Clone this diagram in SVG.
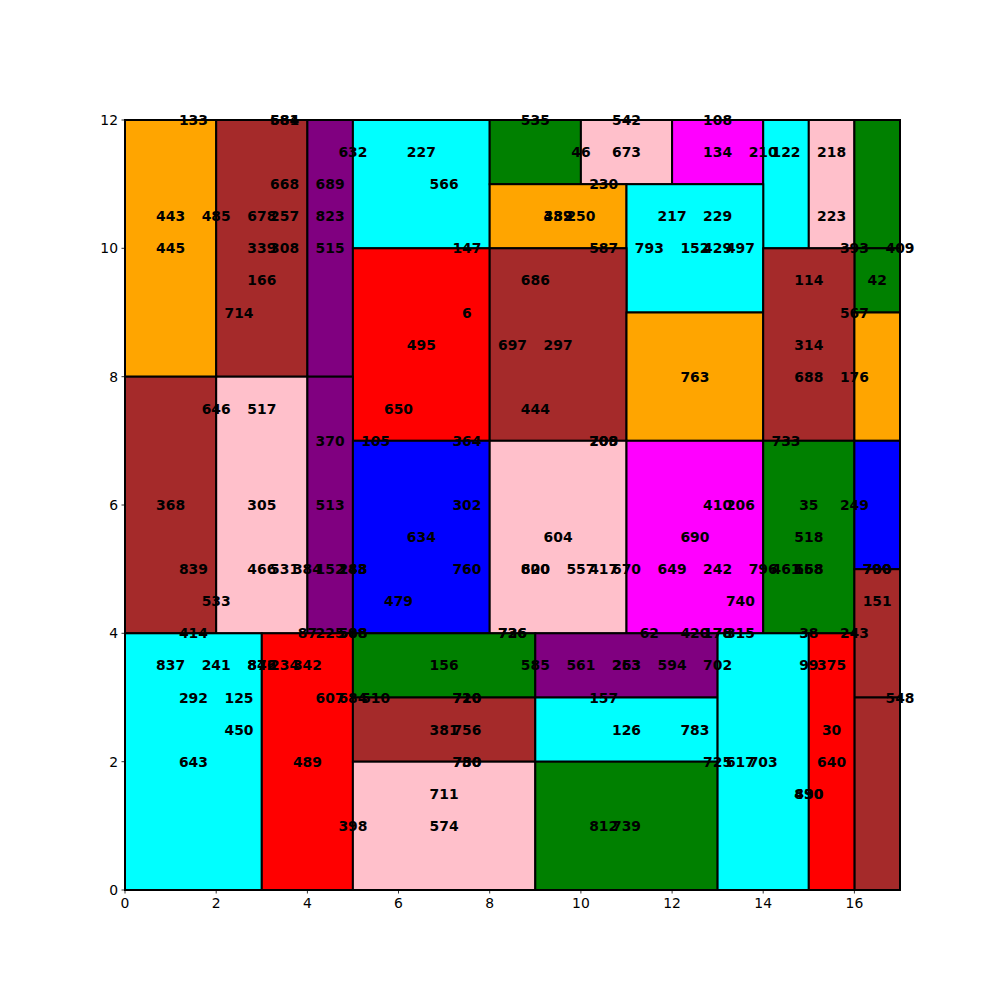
<svg xmlns="http://www.w3.org/2000/svg" width="1000" height="1000" viewBox="0 0 1000 1000">
<style>
rect.r{stroke:#000;stroke-width:2}
.or{fill:#FFA500}.br{fill:#A52A2A}.pu{fill:#800080}.cy{fill:#00FFFF}.gr{fill:#008000}.pk{fill:#FFC0CB}.mg{fill:#FF00FF}.rd{fill:#FF0000}.bl{fill:#0000FF}
text.l{font-family:"DejaVu Sans","Liberation Sans",sans-serif;font-weight:bold;font-size:13.9px;text-anchor:middle;dominant-baseline:central;fill:#000}
text.t{font-family:"DejaVu Sans","Liberation Sans",sans-serif;font-size:13.9px;fill:#000}
line.tk{stroke:#000;stroke-width:0.8}
</style>
<rect width="1000" height="1000" fill="#fff"/>
<g id="axes-frame"><rect x="125" y="120" width="775" height="770" fill="none" stroke="#000" stroke-width="0.8"/></g>
<g id="cells">
<g id="c1"><rect class="r or" x="125" y="120" width="91.2" height="256.7"/></g>
<g id="c2"><rect class="r br" x="216.2" y="120" width="91.2" height="256.7"/></g>
<g id="c3"><rect class="r pu" x="307.4" y="120" width="45.5" height="256.7"/></g>
<g id="c4"><rect class="r cy" x="352.9" y="120" width="136.8" height="128.3"/></g>
<g id="c5"><rect class="r gr" x="489.7" y="120" width="91.2" height="64.2"/></g>
<g id="c6"><rect class="r pk" x="580.9" y="120" width="91.2" height="64.2"/></g>
<g id="c7"><rect class="r mg" x="672.1" y="120" width="91.1" height="64.2"/></g>
<g id="c8"><rect class="r cy" x="763.2" y="120" width="45.6" height="128.3"/></g>
<g id="c9"><rect class="r pk" x="808.8" y="120" width="45.6" height="128.3"/></g>
<g id="c10"><rect class="r gr" x="854.4" y="120" width="45.6" height="128.3"/></g>
<g id="c11"><rect class="r gr" x="854.4" y="248.3" width="45.6" height="64.2"/></g>
<g id="c12"><rect class="r or" x="489.7" y="184.2" width="136.8" height="64.1"/></g>
<g id="c13"><rect class="r cy" x="626.5" y="184.2" width="136.7" height="128.3"/></g>
<g id="c14"><rect class="r rd" x="352.9" y="248.3" width="136.8" height="192.5"/></g>
<g id="c15"><rect class="r br" x="489.7" y="248.3" width="136.8" height="192.5"/></g>
<g id="c16"><rect class="r or" x="626.5" y="312.5" width="136.7" height="128.3"/></g>
<g id="c17"><rect class="r br" x="763.2" y="248.3" width="91.2" height="192.5"/></g>
<g id="c18"><rect class="r or" x="854.4" y="312.5" width="45.6" height="128.3"/></g>
<g id="c19"><rect class="r br" x="125" y="376.7" width="91.2" height="256.6"/></g>
<g id="c20"><rect class="r pk" x="216.2" y="376.7" width="91.2" height="256.6"/></g>
<g id="c21"><rect class="r pu" x="307.4" y="376.7" width="45.5" height="256.6"/></g>
<g id="c22"><rect class="r bl" x="352.9" y="440.8" width="136.8" height="192.5"/></g>
<g id="c23"><rect class="r pk" x="489.7" y="440.8" width="136.8" height="192.5"/></g>
<g id="c24"><rect class="r mg" x="626.5" y="440.8" width="136.7" height="192.5"/></g>
<g id="c25"><rect class="r gr" x="763.2" y="440.8" width="91.2" height="192.5"/></g>
<g id="c26"><rect class="r bl" x="854.4" y="440.8" width="45.6" height="128.4"/></g>
<g id="c27"><rect class="r br" x="854.4" y="569.2" width="45.6" height="128.3"/></g>
<g id="c28"><rect class="r br" x="854.4" y="697.5" width="45.6" height="192.5"/></g>
<g id="c29"><rect class="r cy" x="125" y="633.3" width="136.8" height="256.7"/></g>
<g id="c30"><rect class="r rd" x="261.8" y="633.3" width="91.1" height="256.7"/></g>
<g id="c31"><rect class="r gr" x="352.9" y="633.3" width="182.4" height="64.2"/></g>
<g id="c32"><rect class="r br" x="352.9" y="697.5" width="182.4" height="64.2"/></g>
<g id="c33"><rect class="r pk" x="352.9" y="761.7" width="182.4" height="128.3"/></g>
<g id="c34"><rect class="r pu" x="535.3" y="633.3" width="182.3" height="64.2"/></g>
<g id="c35"><rect class="r cy" x="535.3" y="697.5" width="182.3" height="64.2"/></g>
<g id="c36"><rect class="r gr" x="535.3" y="761.7" width="182.3" height="128.3"/></g>
<g id="c37"><rect class="r cy" x="717.6" y="633.3" width="91.2" height="256.7"/></g>
<g id="c38"><rect class="r rd" x="808.8" y="633.3" width="45.6" height="256.7"/></g>
</g>
<g id="ticks">
<line class="tk" x1="125" y1="890" x2="125" y2="893.5"/><line class="tk" x1="216.2" y1="890" x2="216.2" y2="893.5"/><line class="tk" x1="307.4" y1="890" x2="307.4" y2="893.5"/><line class="tk" x1="398.5" y1="890" x2="398.5" y2="893.5"/><line class="tk" x1="489.7" y1="890" x2="489.7" y2="893.5"/><line class="tk" x1="580.9" y1="890" x2="580.9" y2="893.5"/><line class="tk" x1="672.1" y1="890" x2="672.1" y2="893.5"/><line class="tk" x1="763.2" y1="890" x2="763.2" y2="893.5"/><line class="tk" x1="854.4" y1="890" x2="854.4" y2="893.5"/>
<line class="tk" x1="121.5" y1="890" x2="125" y2="890"/><line class="tk" x1="121.5" y1="761.7" x2="125" y2="761.7"/><line class="tk" x1="121.5" y1="633.3" x2="125" y2="633.3"/><line class="tk" x1="121.5" y1="505" x2="125" y2="505"/><line class="tk" x1="121.5" y1="376.7" x2="125" y2="376.7"/><line class="tk" x1="121.5" y1="248.3" x2="125" y2="248.3"/><line class="tk" x1="121.5" y1="120" x2="125" y2="120"/>
<g text-anchor="middle">
<text class="t" x="125" y="908">0</text><text class="t" x="216.2" y="908">2</text><text class="t" x="307.4" y="908">4</text><text class="t" x="398.5" y="908">6</text><text class="t" x="489.7" y="908">8</text><text class="t" x="580.9" y="908">10</text><text class="t" x="672.1" y="908">12</text><text class="t" x="763.2" y="908">14</text><text class="t" x="854.4" y="908">16</text>
</g>
<g text-anchor="end">
<text class="t" x="118" y="895">0</text><text class="t" x="118" y="766.7">2</text><text class="t" x="118" y="638.3">4</text><text class="t" x="118" y="510">6</text><text class="t" x="118" y="381.7">8</text><text class="t" x="118" y="253.3">10</text><text class="t" x="118" y="125">12</text>
</g>
</g>
<g id="labels">
<text class="l" x="193.4" y="120">133</text><text class="l" x="284.6" y="120">684</text><text class="l" x="284.6" y="120">581</text><text class="l" x="535.3" y="120">535</text><text class="l" x="626.5" y="120">542</text><text class="l" x="717.6" y="120">108</text>
<text class="l" x="352.9" y="152.1">632</text><text class="l" x="421.3" y="152.1">227</text><text class="l" x="580.9" y="152.1">46</text><text class="l" x="626.5" y="152.1">673</text><text class="l" x="717.6" y="152.1">134</text><text class="l" x="763.2" y="152.1">210</text><text class="l" x="786" y="152.1">122</text><text class="l" x="831.6" y="152.1">218</text>
<text class="l" x="284.6" y="184.2">668</text><text class="l" x="330.1" y="184.2">689</text><text class="l" x="444.1" y="184.2">566</text><text class="l" x="603.7" y="184.2">230</text>
<text class="l" x="170.6" y="216.25">443</text><text class="l" x="216.2" y="216.25">485</text><text class="l" x="261.8" y="216.25">678</text><text class="l" x="284.6" y="216.25">257</text><text class="l" x="330.1" y="216.25">823</text><text class="l" x="558.1" y="216.25">432</text><text class="l" x="558.1" y="216.25">389</text><text class="l" x="580.9" y="216.25">250</text><text class="l" x="672.1" y="216.25">217</text><text class="l" x="717.6" y="216.25">229</text><text class="l" x="831.6" y="216.25">223</text>
<text class="l" x="170.6" y="248.3">445</text><text class="l" x="261.8" y="248.3">339</text><text class="l" x="284.6" y="248.3">308</text><text class="l" x="330.1" y="248.3">515</text><text class="l" x="466.9" y="248.3">147</text><text class="l" x="603.7" y="248.3">587</text><text class="l" x="649.3" y="248.3">793</text><text class="l" x="694.9" y="248.3">152</text><text class="l" x="717.6" y="248.3">429</text><text class="l" x="740.4" y="248.3">497</text><text class="l" x="854.4" y="248.3">393</text><text class="l" x="900" y="248.3">409</text>
<text class="l" x="261.8" y="280.4">166</text><text class="l" x="535.3" y="280.4">686</text><text class="l" x="808.8" y="280.4">114</text><text class="l" x="877.2" y="280.4">42</text>
<text class="l" x="239" y="312.5">714</text><text class="l" x="466.9" y="312.5">6</text><text class="l" x="854.4" y="312.5">567</text>
<text class="l" x="421.3" y="344.6">495</text><text class="l" x="512.5" y="344.6">697</text><text class="l" x="558.1" y="344.6">297</text><text class="l" x="808.8" y="344.6">314</text>
<text class="l" x="694.9" y="376.7">763</text><text class="l" x="808.8" y="376.7">688</text><text class="l" x="854.4" y="376.7">176</text>
<text class="l" x="216.2" y="408.75">646</text><text class="l" x="261.8" y="408.75">517</text><text class="l" x="398.5" y="408.75">650</text><text class="l" x="535.3" y="408.75">444</text>
<text class="l" x="330.1" y="440.8">370</text><text class="l" x="375.7" y="440.8">105</text><text class="l" x="466.9" y="440.8">364</text><text class="l" x="603.7" y="440.8">209</text><text class="l" x="603.7" y="440.8">708</text><text class="l" x="786" y="440.8">733</text>
<text class="l" x="170.6" y="505">368</text><text class="l" x="261.8" y="505">305</text><text class="l" x="330.1" y="505">513</text><text class="l" x="466.9" y="505">302</text><text class="l" x="717.6" y="505">410</text><text class="l" x="740.4" y="505">206</text><text class="l" x="808.8" y="505">35</text><text class="l" x="854.4" y="505">249</text>
<text class="l" x="421.3" y="537.1">634</text><text class="l" x="558.1" y="537.1">604</text><text class="l" x="694.9" y="537.1">690</text><text class="l" x="808.8" y="537.1">518</text>
<text class="l" x="193.4" y="569.2">839</text><text class="l" x="261.8" y="569.2">466</text><text class="l" x="284.6" y="569.2">531</text><text class="l" x="307.4" y="569.2">384</text><text class="l" x="330.1" y="569.2">152</text><text class="l" x="352.9" y="569.2">243</text><text class="l" x="352.9" y="569.2">188</text><text class="l" x="466.9" y="569.2">760</text><text class="l" x="535.3" y="569.2">600</text><text class="l" x="535.3" y="569.2">820</text><text class="l" x="580.9" y="569.2">557</text><text class="l" x="603.7" y="569.2">417</text><text class="l" x="626.5" y="569.2">670</text><text class="l" x="672.1" y="569.2">649</text><text class="l" x="717.6" y="569.2">242</text><text class="l" x="763.2" y="569.2">796</text><text class="l" x="786" y="569.2">461</text><text class="l" x="808.8" y="569.2">158</text><text class="l" x="808.8" y="569.2">668</text><text class="l" x="877.2" y="569.2">700</text><text class="l" x="877.2" y="569.2">790</text>
<text class="l" x="216.2" y="601.25">533</text><text class="l" x="398.5" y="601.25">479</text><text class="l" x="740.4" y="601.25">740</text><text class="l" x="877.2" y="601.25">151</text>
<text class="l" x="193.4" y="633.3">414</text><text class="l" x="307.4" y="633.3">87</text><text class="l" x="330.1" y="633.3">225</text><text class="l" x="352.9" y="633.3">588</text><text class="l" x="352.9" y="633.3">508</text><text class="l" x="512.5" y="633.3">736</text><text class="l" x="512.5" y="633.3">726</text><text class="l" x="649.3" y="633.3">62</text><text class="l" x="694.9" y="633.3">420</text><text class="l" x="717.6" y="633.3">178</text><text class="l" x="717.6" y="633.3">176</text><text class="l" x="740.4" y="633.3">315</text><text class="l" x="808.8" y="633.3">38</text><text class="l" x="854.4" y="633.3">243</text>
<text class="l" x="170.6" y="665.4">837</text><text class="l" x="216.2" y="665.4">241</text><text class="l" x="261.8" y="665.4">842</text><text class="l" x="261.8" y="665.4">876</text><text class="l" x="284.6" y="665.4">234</text><text class="l" x="307.4" y="665.4">342</text><text class="l" x="444.1" y="665.4">156</text><text class="l" x="535.3" y="665.4">585</text><text class="l" x="580.9" y="665.4">561</text><text class="l" x="626.5" y="665.4">263</text><text class="l" x="626.5" y="665.4">253</text><text class="l" x="672.1" y="665.4">594</text><text class="l" x="717.6" y="665.4">702</text><text class="l" x="808.8" y="665.4">99</text><text class="l" x="831.6" y="665.4">375</text>
<text class="l" x="193.4" y="697.5">292</text><text class="l" x="239" y="697.5">125</text><text class="l" x="330.1" y="697.5">607</text><text class="l" x="352.9" y="697.5">684</text><text class="l" x="375.7" y="697.5">510</text><text class="l" x="466.9" y="697.5">720</text><text class="l" x="466.9" y="697.5">710</text><text class="l" x="603.7" y="697.5">157</text><text class="l" x="900" y="697.5">548</text>
<text class="l" x="239" y="729.6">450</text><text class="l" x="444.1" y="729.6">381</text><text class="l" x="466.9" y="729.6">756</text><text class="l" x="626.5" y="729.6">126</text><text class="l" x="694.9" y="729.6">783</text><text class="l" x="831.6" y="729.6">30</text>
<text class="l" x="193.4" y="761.7">643</text><text class="l" x="307.4" y="761.7">489</text><text class="l" x="466.9" y="761.7">780</text><text class="l" x="466.9" y="761.7">730</text><text class="l" x="717.6" y="761.7">725</text><text class="l" x="740.4" y="761.7">617</text><text class="l" x="763.2" y="761.7">703</text><text class="l" x="831.6" y="761.7">640</text>
<text class="l" x="444.1" y="793.75">711</text><text class="l" x="808.8" y="793.75">890</text><text class="l" x="808.8" y="793.75">430</text>
<text class="l" x="352.9" y="825.8">398</text><text class="l" x="444.1" y="825.8">574</text><text class="l" x="603.7" y="825.8">812</text><text class="l" x="626.5" y="825.8">739</text>
</g>
</svg>
